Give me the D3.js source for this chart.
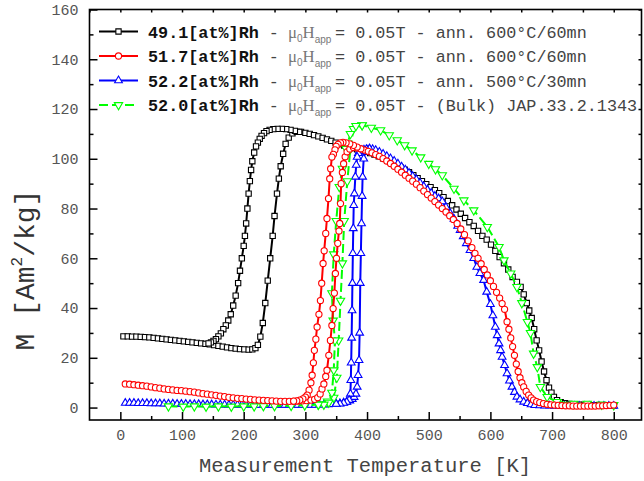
<!DOCTYPE html>
<html>
<head>
<meta charset="utf-8">
<script src="https://cdn.jsdelivr.net/npm/d3@7"></script>
<style>
body { margin: 0; background: #fff; }
</style>
</head>
<body>
<div class="chart"></div>
<script>
var width = 644, height = 481

// [T (K), M (Am2/kg)], heating and cooling branches
var black491Heat = [[5,28.6],[12,28.6],[19,28.5],[26,28.5],[33,28.4],[40,28.3],[47,28.2],[54,28.0],[61,27.8],[68,27.6],[75,27.4],[82,27.2],[89,27.0],[96,26.8],[103,26.6],[110,26.4],[117,26.2],[124,26.0],[131,25.8],[138,25.6],[145,25.4],[152,25.1],[159,24.8],[166,24.5],[173,24.2],[180,23.9],[187,23.7],[194,23.5],[201,23.4],[208,23.3],[214,23.4],[219,23.9],[223,25.2],[227,28.5],[231,34],[235,42],[239,51],[243,60],[247,69],[250,77],[254,86],[257,92],[260,97],[264,102],[268,106],[273,108.5],[279,110.2],[286,110.8],[293,110.8],[300,110.4],[307,110],[314,109.5],[321,109],[328,108.4],[335,107.8],[342,107.2],[349,106.5],[356,105.9],[363,105.3],[370,104.8],[377,104.3],[384,103.8],[391,103.3],[398,102.8],[405,102.3],[412,101.7],[419,101],[426,100.2],[433,99.4],[440,98.5],[447,97.6],[454,96.6],[461,95.6],[468,94.6],[475,93.4],[482,92.2],[489,91],[496,89.8],[503,88.6],[510,87.4],[517,86.2],[524,84.6],[531,83],[538,81.3],[545,79.6],[552,77.9],[559,76.2],[566,74.5],[573,73],[580,71],[587,69],[594,67.5],[601,65.5],[608,63],[615,60.5],[622,58],[629,55.5],[636,52.5],[643,50.5],[649,48.5],[654,45.5],[659,42],[663,39],[667,36],[671,31.5],[675,27],[679,23],[683,18.5],[687,14.5],[691,11],[695,8],[699,6],[703,4.3],[708,3],[714,2.2],[721,1.8],[728,1.5],[736,1.3],[744,1.2],[752,1.1],[760,1.0],[768,1.0],[776,0.9],[784,0.9],[792,0.8],[800,0.8]]
var black491Cool = [[290,110.8],[283,111.2],[276,111.6],[269,111.9],[262,112],[255,112],[248,111.9],[242,111.6],[237,111.1],[233,110.3],[229,109.2],[226,108],[223,106.5],[220,105],[217,102.5],[214,99],[212,95.5],[210,91],[208,86],[206,80],[204,74],[202,69],[200,65],[197,60],[194,55],[191,50],[187,45],[183,41],[179,37.5],[175,35],[171,33],[167,31.5],[163,29.8],[159,28.6],[155,27.5],[151,26.8],[147,26.2],[143,25.8]]

var red517Heat = [[8,9.5],[15,9.4],[22,9.2],[29,9.0],[36,8.8],[43,8.6],[50,8.3],[57,8.0],[64,7.8],[71,7.5],[78,7.3],[85,7.1],[92,6.9],[99,6.8],[106,6.6],[113,6.4],[120,6.2],[127,5.9],[134,5.6],[141,5.4],[148,5.1],[155,4.9],[162,4.6],[169,4.4],[176,4.1],[183,3.9],[190,3.7],[197,3.6],[204,3.4],[211,3.3],[218,3.1],[225,3.0],[232,2.9],[239,2.8],[246,2.7],[253,2.6],[260,2.5],[267,2.5],[274,2.5],[281,2.5],[288,2.6],[295,2.7],[302,2.8],[309,3.0],[315,3.3],[320,4],[324,5.5],[327,7.5],[330,9.5],[333,12.5],[335,15],[338,21],[340.6,27],[343,33],[345,39.8],[347,46],[348.7,53.9],[350.5,60],[352.5,66],[354.5,71],[355.7,74],[357,82],[358,90],[360,94.5],[362,98],[364.5,100.8],[367.6,102.8],[372,103.9],[378,104.5],[384,104.3],[390,104],[396,103.5],[402,103],[408,102.4],[414,101.7],[420,101],[426,100.1],[432,99.1],[438,98.1],[444,97],[450,95.8],[456,94.6],[462,93.4],[468,92.2],[474,91],[480,89.8],[486,88.4],[492,87],[498,85.6],[504,84.2],[510,82.8],[516,81.4],[522,80],[528,78.6],[534,77.1],[540,75.6],[546,74],[552,71.8],[558,69.5],[564,67],[570,64.3],[575,62],[580,60],[585,57.8],[590,55.5],[595,53.3],[600,51],[605,48.7],[610,46.3],[615,44],[619,41.8],[623,39.5],[627,34.5],[630,31.5],[633,28],[636,24.5],[639,21],[642,17.5],[645,14.5],[648,12],[651,10],[654,8.3],[658,6.5],[662,5],[666,3.9],[670,3],[675,2.4],[680,2],[686,1.6],[692,1.3],[698,1.1],[704,1.0],[710,0.9],[716,0.8],[722,0.7],[728,0.7],[734,0.6],[740,0.6],[746,0.6],[752,0.6],[758,0.6],[764,0.6],[770,0.6],[776,0.7],[782,0.7],[788,0.8],[794,0.9],[800,1.0]]
var red517Cool = [[390,104],[384,104.7],[378,105.4],[372,106],[366,106.4],[361,106.6],[357,106.4],[353,105.8],[350,105],[348,103.6],[345.5,101.8],[343,100.7],[341,96],[339.5,92],[337.5,84],[335,76],[333,70],[330.5,63],[328.7,57.9],[326.5,50],[324.4,43],[322,37.5],[319,32.4],[317,27.5],[314.6,23],[313,18],[311,13],[309,10],[306,7],[303,5],[300,4.2],[296,3.5],[291,3.0],[286,2.7],[281,2.6]]

var blue522Heat = [[8,1.8],[15,1.8],[22,1.8],[29,1.7],[36,1.7],[43,1.7],[50,1.6],[57,1.6],[64,1.6],[71,1.5],[78,1.5],[85,1.5],[92,1.4],[99,1.4],[106,1.4],[113,1.3],[120,1.3],[127,1.3],[134,1.2],[141,1.2],[148,1.2],[155,1.1],[162,1.1],[169,1.1],[176,1.0],[183,1.0],[190,1.0],[197,1.0],[204,1.0],[211,1.0],[218,1.0],[225,1.0],[232,1.0],[239,1.0],[246,1.0],[253,1.0],[260,1.0],[267,1.0],[274,1.0],[281,1.0],[288,1.0],[295,1.0],[302,1.0],[309,1.0],[316,1.0],[323,1.1],[330,1.1],[337,1.2],[344,1.3],[350,1.4],[356,1.6],[362,1.9],[367,2.3],[372,2.8],[376,3.4],[379,4.2],[382,5.5],[384,8.3],[385.5,13],[387,19],[388,30],[389,50],[390,62],[391,74],[392,85],[392.8,92.7],[394.6,100],[397,102.8],[400,103.6],[404,104],[409,103.8],[414,103.4],[420,102.7],[426,101.9],[432,101],[438,100.1],[444,99.1],[450,98],[456,96.8],[462,95.6],[468,94.3],[474,93],[480,91.7],[486,90.3],[492,88.9],[498,87.5],[504,86.2],[510,85],[516,84],[522,82.8],[528,80.5],[535,78],[541,75.8],[547,73],[551,71.3],[556,68.8],[561,66],[567,63.2],[573,60],[578,56.5],[583,54],[589,51.2],[594,46.5],[600,41.5],[604,37],[608,32.4],[611,29],[614,25.7],[616.5,23],[619,20.3],[623,17],[627,13.7],[631,10.8],[635,8.3],[639,6.2],[643,4.3],[648,3.2],[654,2.3],[660,1.7],[666,1.2],[672,0.9],[680,0.8],[688,0.7],[696,0.7],[704,0.6],[712,0.6],[720,0.6],[728,0.6],[736,0.6],[744,0.6],[752,0.6],[760,0.6],[768,0.6],[776,0.6],[784,0.6],[792,0.6],[800,0.6]]
var blue522Cool = [[404,104],[399,103.8],[395,103.6],[391,103.4],[388,103],[386,102.2],[384,100.7],[382.5,97.5],[381,92.7],[379.5,86],[378.4,81.3],[377.7,72],[377,62],[376.3,50],[375.7,39],[375,28],[374.3,18],[373.7,11],[373,5.5],[371,3],[367,2.2],[362,1.8],[356,1.5],[350,1.4]]

var green520Heat = [[78,0.5],[102,0.4],[120,0.5],[139,0.4],[159,0.5],[180,0.4],[200,0.5],[217,0.5],[232,0.6],[250,0.6],[277,0.7],[299,0.9],[321,1.2],[336,2.5],[346,4],[351,12],[354,27],[357,43],[360,58],[363,75],[368,91],[373,104],[378,112],[392,113.5],[407,112.5],[422,111.5],[436,109.5],[449,107.5],[461,105.5],[473,103.4],[487,100.6],[500,98],[511,95.8],[522,93.4],[541,88],[557,83.3],[573,79.3],[595,72.6],[614,64.6],[622,59.2],[633,53.9],[643,48.5],[651,42],[660,34.4],[665,30],[670,21.7],[676,16.3],[681,8.3],[692,4.3],[708,2.3],[735,1.6],[757,1.6],[780,1.2],[800,1.0]]
var green520Cool = [[392,113.5],[382,113.2],[373,110],[366,104],[360,96],[355,88.7],[350,75],[346,61.6],[343,46],[345,35],[348,27],[346,15],[343,6],[338,2],[330,1.2],[321,1.2]]

var xMajor = [0,100,200,300,400,500,600,700,800]
var xMinor = [-50,50,150,250,350,450,550,650,750]
var yMajor = [0,20,40,60,80,100,120,140,160]
var yMinor = [10,30,50,70,90,110,130,150]

var legendNames = ['49.1[at%]Rh', '51.7[at%]Rh', '52.2[at%]Rh', '52.0[at%]Rh']
var legendTails = ['= 0.05T - ann. 600°C/60mn', '= 0.05T - ann. 600°C/60mn', '= 0.05T - ann. 500°C/30mn', '= 0.05T - (Bulk) JAP.33.2.1343']

var series = [
  {heat: black491Heat, cool: black491Cool, color: '#000000', sym: d3.symbolSquare, size: 28, rot: 0, dash: null},
  {heat: red517Heat, cool: red517Cool, color: '#ff0000', sym: d3.symbolCircle, size: 30, rot: 0, dash: null},
  {heat: blue522Heat, cool: blue522Cool, color: '#0000ff', sym: d3.symbolTriangle, size: 26, rot: 0, dash: null},
  {heat: green520Heat, cool: green520Cool, color: '#00ff00', sym: d3.symbolTriangle, size: 30, rot: 180, dash: '9,4'}
]
var drawOrder = [0, 2, 3, 1]

var x = d3.scaleLinear().domain([-50, 845]).range([89.5, 641.5])
var y = d3.scaleLinear().domain([-5, 160]).range([420, 9.5])

const svg = d3.select('.chart')
    .append('svg')
    .attr('width', width)
    .attr('height', height)
    .style('font-family', '"Liberation Mono", monospace')

var axisFont = function(g) {
  g.select('.domain').remove()
  g.selectAll('line').attr('stroke', '#000').attr('stroke-width', 1.5)
  g.selectAll('text').attr('font-family', '"Liberation Mono", monospace')
    .attr('font-size', 15).attr('fill', '#555')
}

// bottom axis, ticks pointing in
svg.append('g').attr('transform', 'translate(0,420)')
    .call(d3.axisBottom(x).tickValues(xMajor).tickSize(-8).tickPadding(9).tickFormat(d3.format('d')))
    .call(axisFont)
svg.append('g').attr('transform', 'translate(0,420)')
    .call(d3.axisBottom(x).tickValues(xMinor.filter(function(d){ return d > -50 })).tickSize(-4).tickFormat(''))
    .call(axisFont)
// top mirror ticks
svg.append('g').attr('transform', 'translate(0,9.5)')
    .call(d3.axisTop(x).tickValues(xMajor.concat(xMinor)).tickSize(-3).tickFormat(''))
    .call(axisFont)

// left axis
svg.append('g').attr('transform', 'translate(89.5,0)')
    .call(d3.axisLeft(y).tickValues(yMajor).tickSize(-8).tickPadding(11).tickFormat(d3.format('d')))
    .call(axisFont)
svg.append('g').attr('transform', 'translate(89.5,0)')
    .call(d3.axisLeft(y).tickValues(yMinor).tickSize(-4).tickFormat(''))
    .call(axisFont)
// right mirror ticks
svg.append('g').attr('transform', 'translate(641.5,0)')
    .call(d3.axisRight(y).tickValues(yMajor.concat(yMinor)).tickSize(-3).tickFormat(''))
    .call(axisFont)

// frame
svg.append('rect')
    .attr('x', x(-50)).attr('y', y(160))
    .attr('width', x(845) - x(-50)).attr('height', y(-5) - y(160))
    .attr('fill', 'none').attr('stroke', '#000').attr('stroke-width', 1.6)

var line = d3.line().x(function(d){ return x(d[0]) }).y(function(d){ return y(d[1]) })

var plot = svg.append('g')
drawOrder.forEach(function(i) {
  var s = series[i]
  var g = plot.append('g')
  ;[s.heat, s.cool].forEach(function(branch) {
    g.append('path')
        .attr('d', line(branch))
        .attr('fill', 'none')
        .attr('stroke', s.color)
        .attr('stroke-width', 2)
        .attr('stroke-dasharray', s.dash)
  })
  var pts = s.heat.concat(s.cool)
  g.selectAll('path.mk')
      .data(pts)
      .enter()
      .append('path')
      .attr('class', 'mk')
      .attr('d', d3.symbol().type(s.sym).size(s.size))
      .attr('transform', function(d){ return 'translate(' + x(d[0]) + ',' + y(d[1]) + ') rotate(' + s.rot + ')' })
      .attr('fill', '#fff')
      .attr('stroke', s.color)
      .attr('stroke-width', 1.1)
})

// legend
var legY = [31.5, 56, 80.5, 105]
series.forEach(function(s, i) {
  var ly = legY[i]
  svg.append('line')
      .attr('x1', 99).attr('x2', 138).attr('y1', ly).attr('y2', ly)
      .attr('stroke', s.color).attr('stroke-width', 2)
      .attr('stroke-dasharray', s.dash)
  svg.append('path')
      .attr('d', d3.symbol().type(s.sym).size(s.size))
      .attr('transform', 'translate(118.5,' + ly + ') rotate(' + s.rot + ')')
      .attr('fill', '#fff').attr('stroke', s.color).attr('stroke-width', 1.1)
  var t = svg.append('text').attr('y', ly + 6).attr('font-size', 16.8)
  t.append('tspan').attr('x', 148).attr('font-weight', 'bold').attr('fill', '#111').text(legendNames[i])
  t.append('tspan').attr('fill', '#444').text(' - ')
  t.append('tspan').attr('x', 288).attr('font-family', '"Liberation Serif", serif').attr('fill', '#777').text('μ')
  t.append('tspan').attr('font-family', '"Liberation Sans", sans-serif').attr('font-size', 10).attr('dy', 4).attr('fill', '#777').text('0')
  t.append('tspan').attr('font-family', '"Liberation Serif", serif').attr('dy', -4).attr('fill', '#777').text('H')
  t.append('tspan').attr('font-family', '"Liberation Sans", sans-serif').attr('font-size', 10).attr('dy', 5).attr('fill', '#777').text('app')
  t.append('tspan').attr('x', 335).attr('dy', -5).attr('fill', '#444').text(legendTails[i])
})

// axis titles
svg.append('text')
    .attr('x', 365).attr('y', 472)
    .attr('text-anchor', 'middle')
    .attr('font-size', 20.5).attr('fill', '#444')
    .text('Measurement Temperature [K]')

var yt = svg.append('text')
    .attr('transform', 'translate(34,270) rotate(-90)')
    .attr('text-anchor', 'middle')
    .attr('font-size', 28).attr('fill', '#333')
yt.append('tspan').text('M  [Am')
yt.append('tspan').attr('font-size', 16).attr('dy', -12).text('2')
yt.append('tspan').attr('dy', 12).text('/kg]')
</script>
</body>
</html>
